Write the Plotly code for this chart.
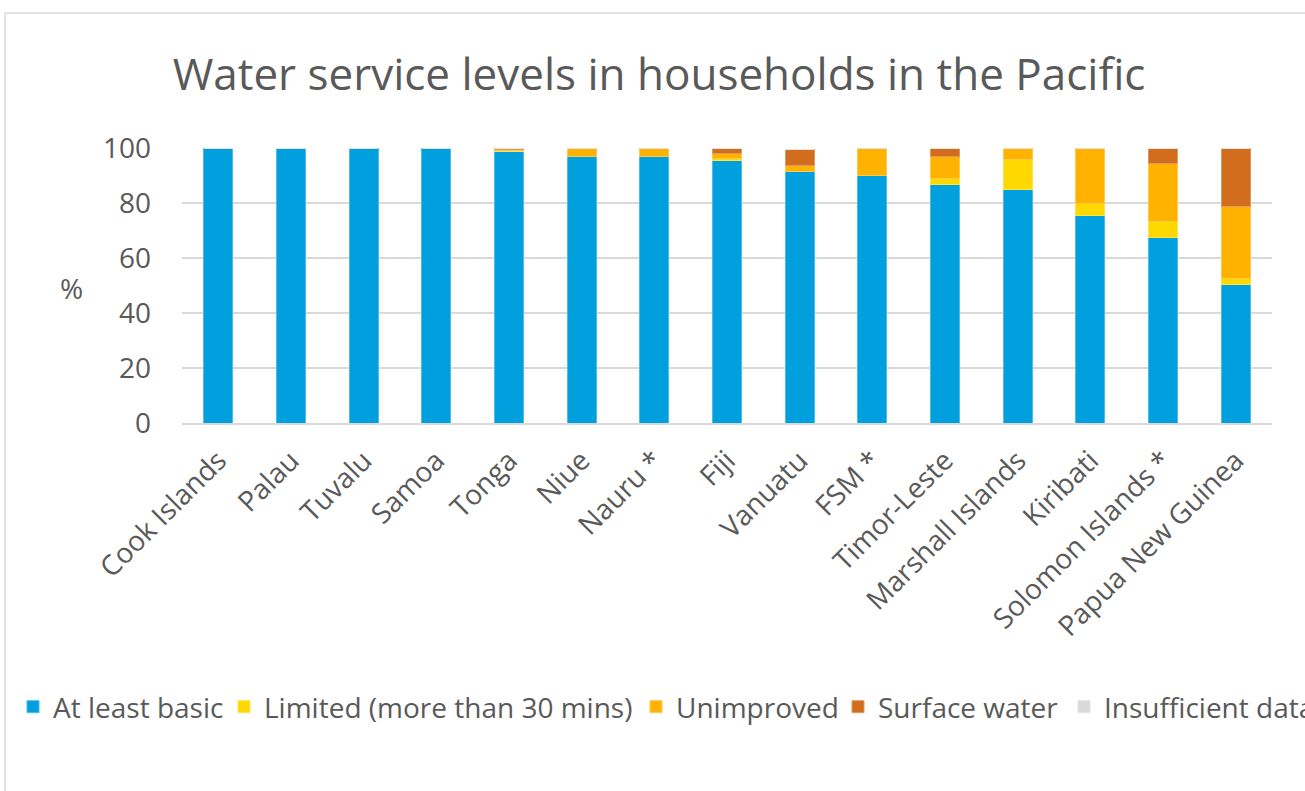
import plotly.graph_objects as go

countries = ["Cook Islands", "Palau", "Tuvalu", "Samoa", "Tonga", "Niue", "Nauru *", "Fiji",
             "Vanuatu", "FSM *", "Timor-Leste", "Marshall Islands", "Kiribati",
             "Solomon Islands *", "Papua New Guinea"]
at_least_basic = [100, 100, 100, 100, 98.6, 96.8, 96.8, 95.3, 91.4, 89.9, 86.9, 85.0, 75.6, 67.4, 50.2]
limited = [0, 0, 0, 0, 0.6, 0, 0, 0.9, 0, 0, 2.1, 11.0, 4.4, 5.8, 2.5]
unimproved = [0, 0, 0, 0, 0.4, 3.2, 3.2, 1.8, 2.4, 10.1, 7.8, 4.0, 20.0, 21.1, 26.0]
surface_water = [0, 0, 0, 0, 0.4, 0, 0, 2.0, 5.8, 0, 3.2, 0, 0, 5.7, 21.3]
insufficient = [0] * 15
y_ticks = [0, 20, 40, 60, 80, 100]

series = [
    ("At least basic", at_least_basic, "#009FDE", "#4DBCE9"),
    ("Limited (more than 30 mins)", limited, "#FFD800", "#FFE44D"),
    ("Unimproved", unimproved, "#FFB200", "#FFC94D"),
    ("Surface water", surface_water, "#D16D1D", "#DE9961"),
    ("Insufficient data", insufficient, "#D9D9D9", "#E4E4E4"),
]
# left x of legend text for each entry (pixels)
legend_text_x = [52, 263, 675, 877, 1103]

FONT = "Open Sans"
TXT = "#595959"

W, H = 1305, 791
L, R, T, B = 182, 33, 148, 368
pw, ph = W - L - R, H - T - B

fig = go.Figure()
legends = {}
for i, (name, vals, color, edge) in enumerate(series):
    key = "legend" if i == 0 else f"legend{i + 1}"
    fig.add_trace(go.Bar(
        x=countries, y=vals, name=name, legend=key,
        marker=dict(color=color, line=dict(color=edge, width=1)),
    ))
    legends[key] = dict(orientation="h", x=(legend_text_x[i] - 39 - L) / pw, xanchor="left",
                        y=-(707 - T - ph) / ph, yanchor="middle",
                        font=dict(size=28, color=TXT, family=FONT),
                        bgcolor="rgba(0,0,0,0)", itemwidth=30)

fig.update_layout(
    width=W, height=H,
    margin=dict(l=L, r=R, t=T, b=B, autoexpand=False),
    barmode="stack", bargap=0.6,
    paper_bgcolor="white", plot_bgcolor="white",
    font=dict(family=FONT, color=TXT, size=28),
    title=dict(text="Water service levels in households in the Pacific",
               x=0.505, xanchor="center", y=1 - 75 / H, yanchor="middle",
               font=dict(size=44, color=TXT, family=FONT)),
    showlegend=True,
    xaxis=dict(tickangle=-45, tickfont=dict(size=28, color=TXT, family=FONT),
               showline=True, linecolor="#D9D9D9", linewidth=2, ticks="",
               ticklabelstandoff=8),
    yaxis=dict(range=[0, 100], tickvals=y_ticks, showgrid=True, gridcolor="#D9D9D9",
               gridwidth=2, zeroline=False, showline=False, ticks="",
               tickfont=dict(size=28, color=TXT, family=FONT), ticklabelstandoff=30),
    **legends,
)

fig.add_annotation(text="%", xref="paper", yref="paper", x=(71 - L) / pw, y=(423 - 288) / ph,
                   showarrow=False, font=dict(size=28, color=TXT, family=FONT),
                   xanchor="center", yanchor="middle")

# outer chart border (top and left edges visible)
fig.add_shape(type="line", xref="paper", yref="paper",
              x0=(5 - L) / pw, x1=(1320 - L) / pw, y0=(423 - 13) / ph, y1=(423 - 13) / ph,
              line=dict(color="#D9D9D9", width=1.5))
fig.add_shape(type="line", xref="paper", yref="paper",
              x0=(5 - L) / pw, x1=(5 - L) / pw, y0=(423 - 13) / ph, y1=(423 - 800) / ph,
              line=dict(color="#D9D9D9", width=1.5))

fig.write_html("out.html")
